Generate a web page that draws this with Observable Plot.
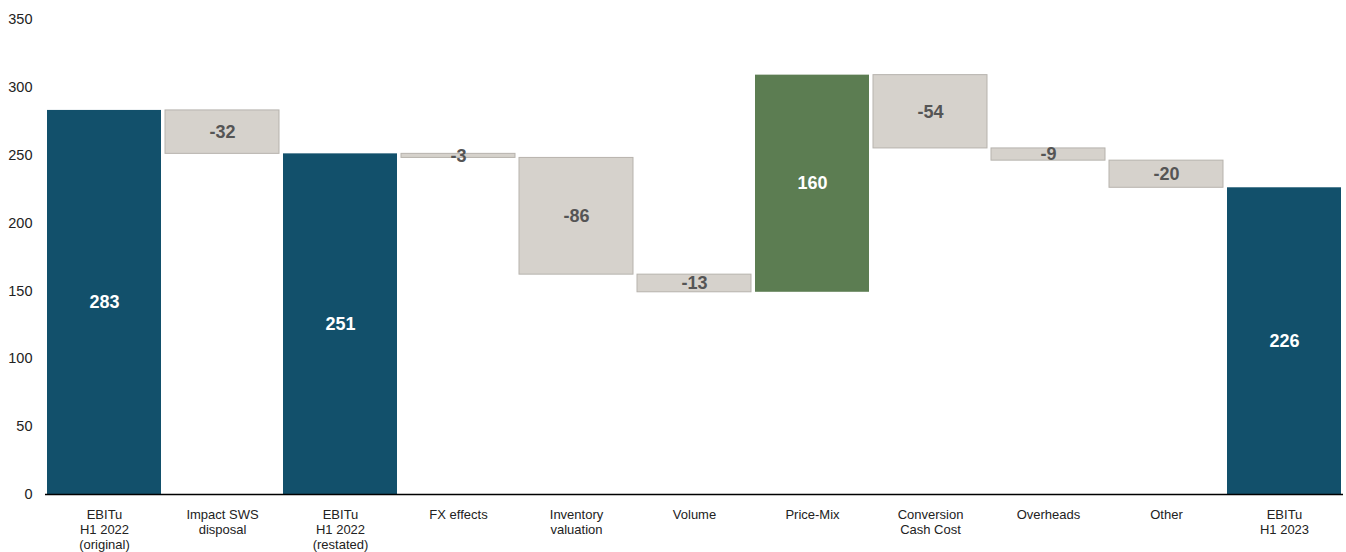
<!DOCTYPE html>
<html><head><meta charset="utf-8">
<script src="https://cdn.jsdelivr.net/npm/d3@7"></script>
<script src="https://cdn.jsdelivr.net/npm/@observablehq/plot@0.6"></script>
<style>body{margin:0;background:#fff} #chart svg{display:block}</style>
</head><body><div id="chart"></div>
<script>
const categories = [
  "EBITu\nH1 2022\n(original)",
  "Impact SWS\ndisposal",
  "EBITu\nH1 2022\n(restated)",
  "FX effects",
  "Inventory\nvaluation",
  "Volume",
  "Price-Mix",
  "Conversion\nCash Cost",
  "Overheads",
  "Other",
  "EBITu\nH1 2023"
];
const values = [283, -32, 251, -3, -86, -13, 160, -54, -9, -20, 226];
const kinds = ["total", "delta", "total", "delta", "delta", "delta", "delta", "delta", "delta", "delta", "total"];
const yTicks = [0, 50, 100, 150, 200, 250, 300, 350];

const colors = { total: "#12506b", up: "#5c7d52", down: "#d6d2cc" };

let running = 0;
const rows = categories.map((c, i) => {
  const v = values[i];
  let y1, y2, kind;
  if (kinds[i] === "total") { y1 = 0; y2 = v; running = v; kind = "total"; }
  else { y1 = running; y2 = running + v; running += v; kind = v >= 0 ? "up" : "down"; }
  return { cat: c, value: v, y1, y2, kind, mid: (y1 + y2) / 2 };
});

const font = "'Liberation Sans', Arial, sans-serif";

const chart = Plot.plot({
  width: 1346,
  height: 552,
  marginLeft: 45,
  marginRight: 3,
  marginTop: 19,
  marginBottom: 58,
  style: { fontFamily: font, fontSize: "13px", background: "#fff", color: "#222" },
  x: { domain: categories, paddingInner: 0.034, paddingOuter: 0.017 },
  y: { domain: [0, 350] },
  marks: [
    Plot.axisY({ ticks: yTicks, tickSize: 0, tickPadding: 13, label: null, fontSize: 14.5 }),
    Plot.axisX({ tickSize: 0, tickPadding: 14, label: null, fontSize: 13, lineHeight: 1.15 }),
    Plot.barY(rows, {
      x: "cat", y1: "y1", y2: "y2",
      fill: d => colors[d.kind],
      stroke: d => d.kind === "down" ? "#b7b3ad" : "none",
      strokeWidth: 1
    }),
    Plot.ruleY([0], { stroke: "#000", strokeWidth: 1.5 }),
    Plot.text(rows, {
      x: "cat", y: "mid",
      text: d => String(d.value),
      fill: d => d.kind === "down" ? "#555555" : "#ffffff",
      fontSize: 18, fontWeight: "bold"
    })
  ]
});
document.getElementById("chart").append(chart);
</script>
</body></html>
